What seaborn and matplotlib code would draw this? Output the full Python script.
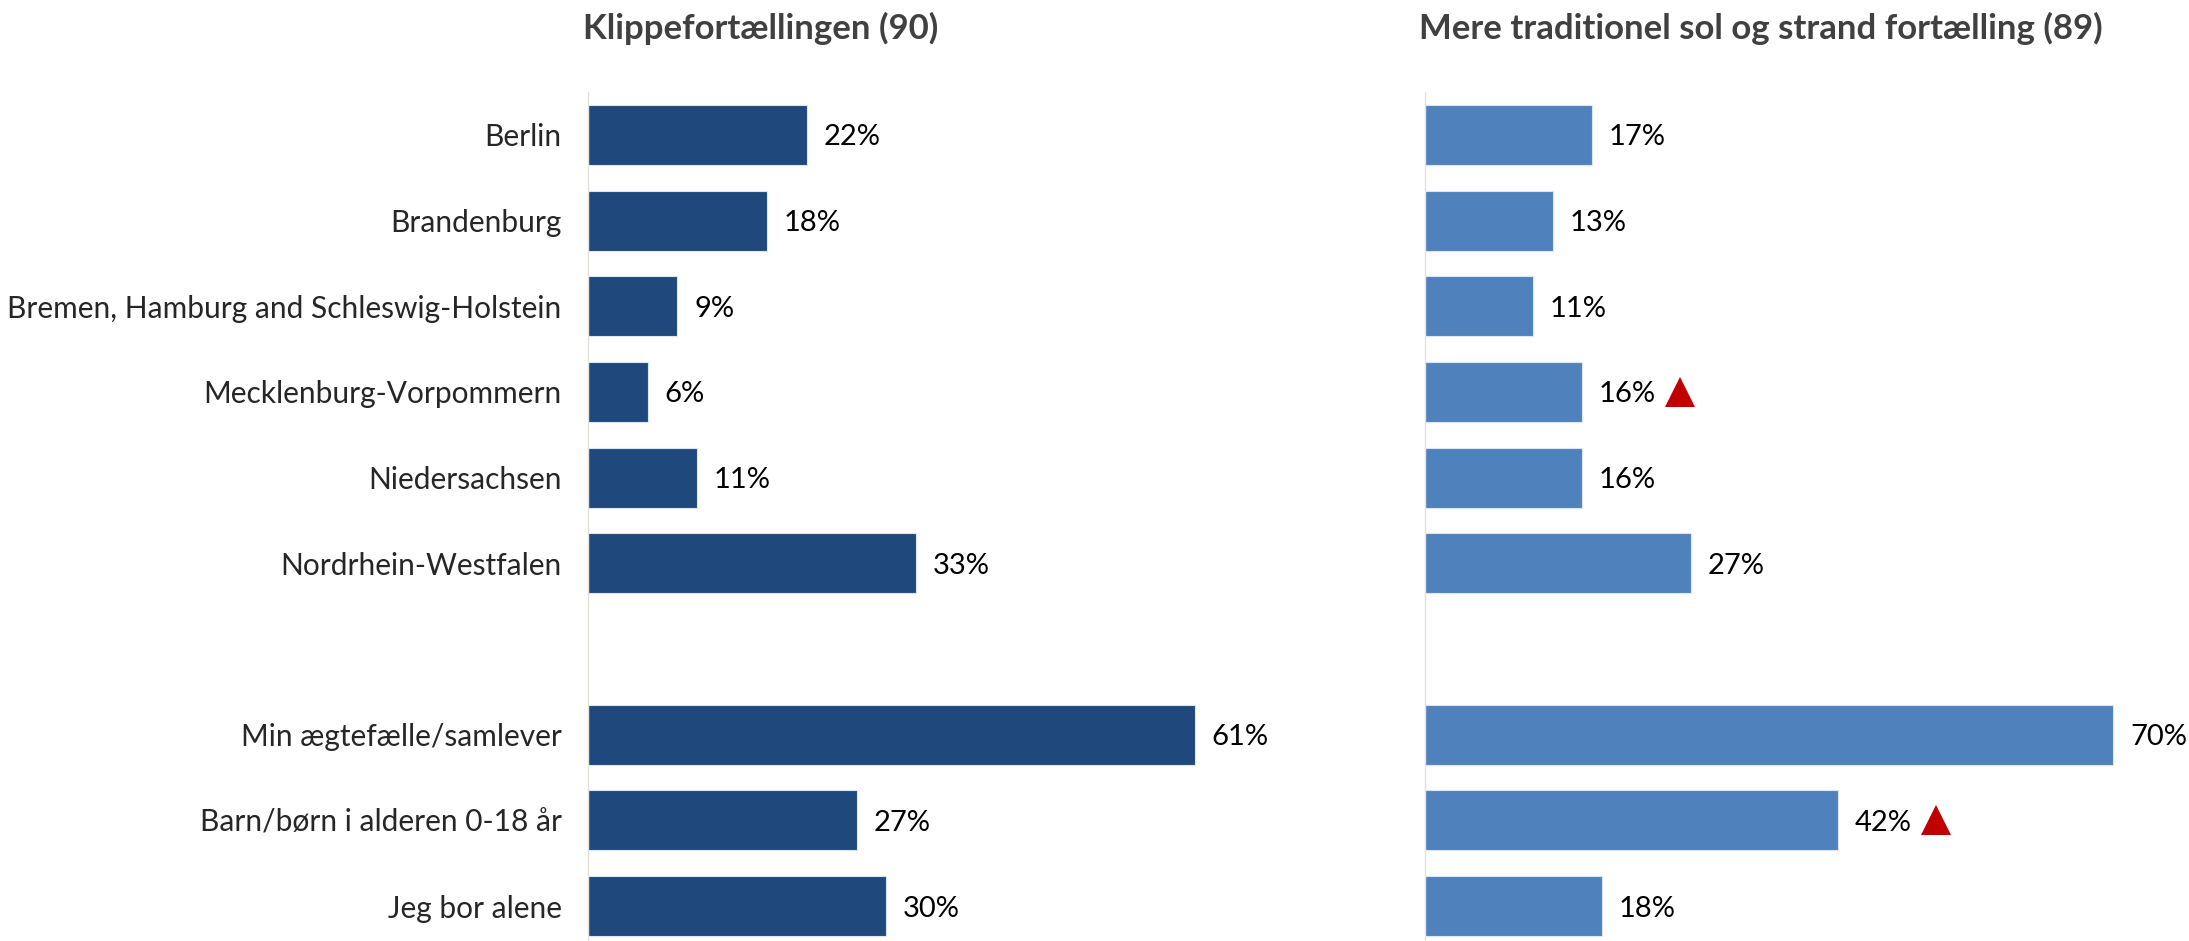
import numpy as np
import pandas as pd
import matplotlib
matplotlib.use('Agg')
import matplotlib.pyplot as plt
from matplotlib.transforms import ScaledTranslation
import seaborn as sns

# data
CATEGORIES = ['Berlin', 'Brandenburg', 'Bremen, Hamburg and Schleswig-Holstein',
              'Mecklenburg-Vorpommern', 'Niedersachsen', 'Nordrhein-Westfalen',
              'Min ægtefælle/samlever', 'Barn/børn i alderen 0-18 år', 'Jeg bor alene']
KLIPPE = [22, 18, 9, 6, 11, 33, 61, 27, 30]
SOL_STRAND = [17, 13, 11, 16, 16, 27, 70, 42, 18]
SOL_UP = ['Mecklenburg-Vorpommern', 'Barn/børn i alderen 0-18 år']  # markeret med rød trekant

TITLE_LEFT = 'Klippefortællingen (90)'
TITLE_RIGHT = 'Mere traditionel sol og strand fortælling (89)'

# tom plads mellem de to grupper
ORDER = CATEGORIES[:6] + [' '] + CATEGORIES[6:]

DARK = '#1F497D'
LIGHT = '#4F81BD'
RED = '#C00000'

sns.set_style('white')
plt.rcParams['font.family'] = ['Lato', 'DejaVu Sans']

fig = plt.figure(figsize=(21.89, 9.41), dpi=100)
ax1 = fig.add_axes([0.2686, -0.0085, 0.3408, 0.9107])
ax2 = fig.add_axes([0.651, -0.0085, 0.349, 0.9107])


def draw_panel(ax, values, color, xmax, up=()):
    df = pd.DataFrame({'kategori': CATEGORIES, 'pct': values})
    sns.barplot(data=df, x='pct', y='kategori', order=ORDER, color=color,
                width=0.7, saturation=1, edgecolor='#DCE6F2', linewidth=0.8, ax=ax)
    ax.set_xlabel('')
    ax.set_ylabel('')
    ax.set_xticks([])
    for s in ['top', 'right', 'bottom']:
        ax.spines[s].set_visible(False)
    ax.spines['left'].set_color('#E3E1DA')
    ax.spines['left'].set_linewidth(1.0)
    ax.tick_params(axis='y', length=0, pad=19, labelsize=21.5)
    shift = ScaledTranslation(98 / 100, 0, fig.dpi_scale_trans)
    for cat, v in zip(CATEGORIES, values):
        i = ORDER.index(cat)
        ax.annotate(f'{v}%', xy=(v, i), xytext=(12, 0), textcoords='offset points',
                    va='center_baseline', ha='left', fontsize=21, color='black',
                    annotation_clip=False)
        if cat in up:
            ax.plot([v], [i], marker='^', markersize=21, color=RED, clip_on=False,
                    linestyle='none', markeredgewidth=0,
                    transform=ax.transData + shift)
    ax.set_xlim(0, xmax)
    ax.set_ylim(len(ORDER) - 0.5, -0.5)


draw_panel(ax1, KLIPPE, DARK, 75)
draw_panel(ax2, SOL_STRAND, LIGHT, 77.7, up=SOL_UP)
ax2.set_yticklabels([])

fig.text(761 / 2189, 1 - 28 / 941, TITLE_LEFT, ha='center', va='center',
         fontsize=25, fontweight='bold', color='#404040')
fig.text(1761 / 2189, 1 - 28 / 941, TITLE_RIGHT, ha='center', va='center',
         fontsize=25, fontweight='bold', color='#404040')

fig.savefig('out.png', dpi=100, facecolor='white')
